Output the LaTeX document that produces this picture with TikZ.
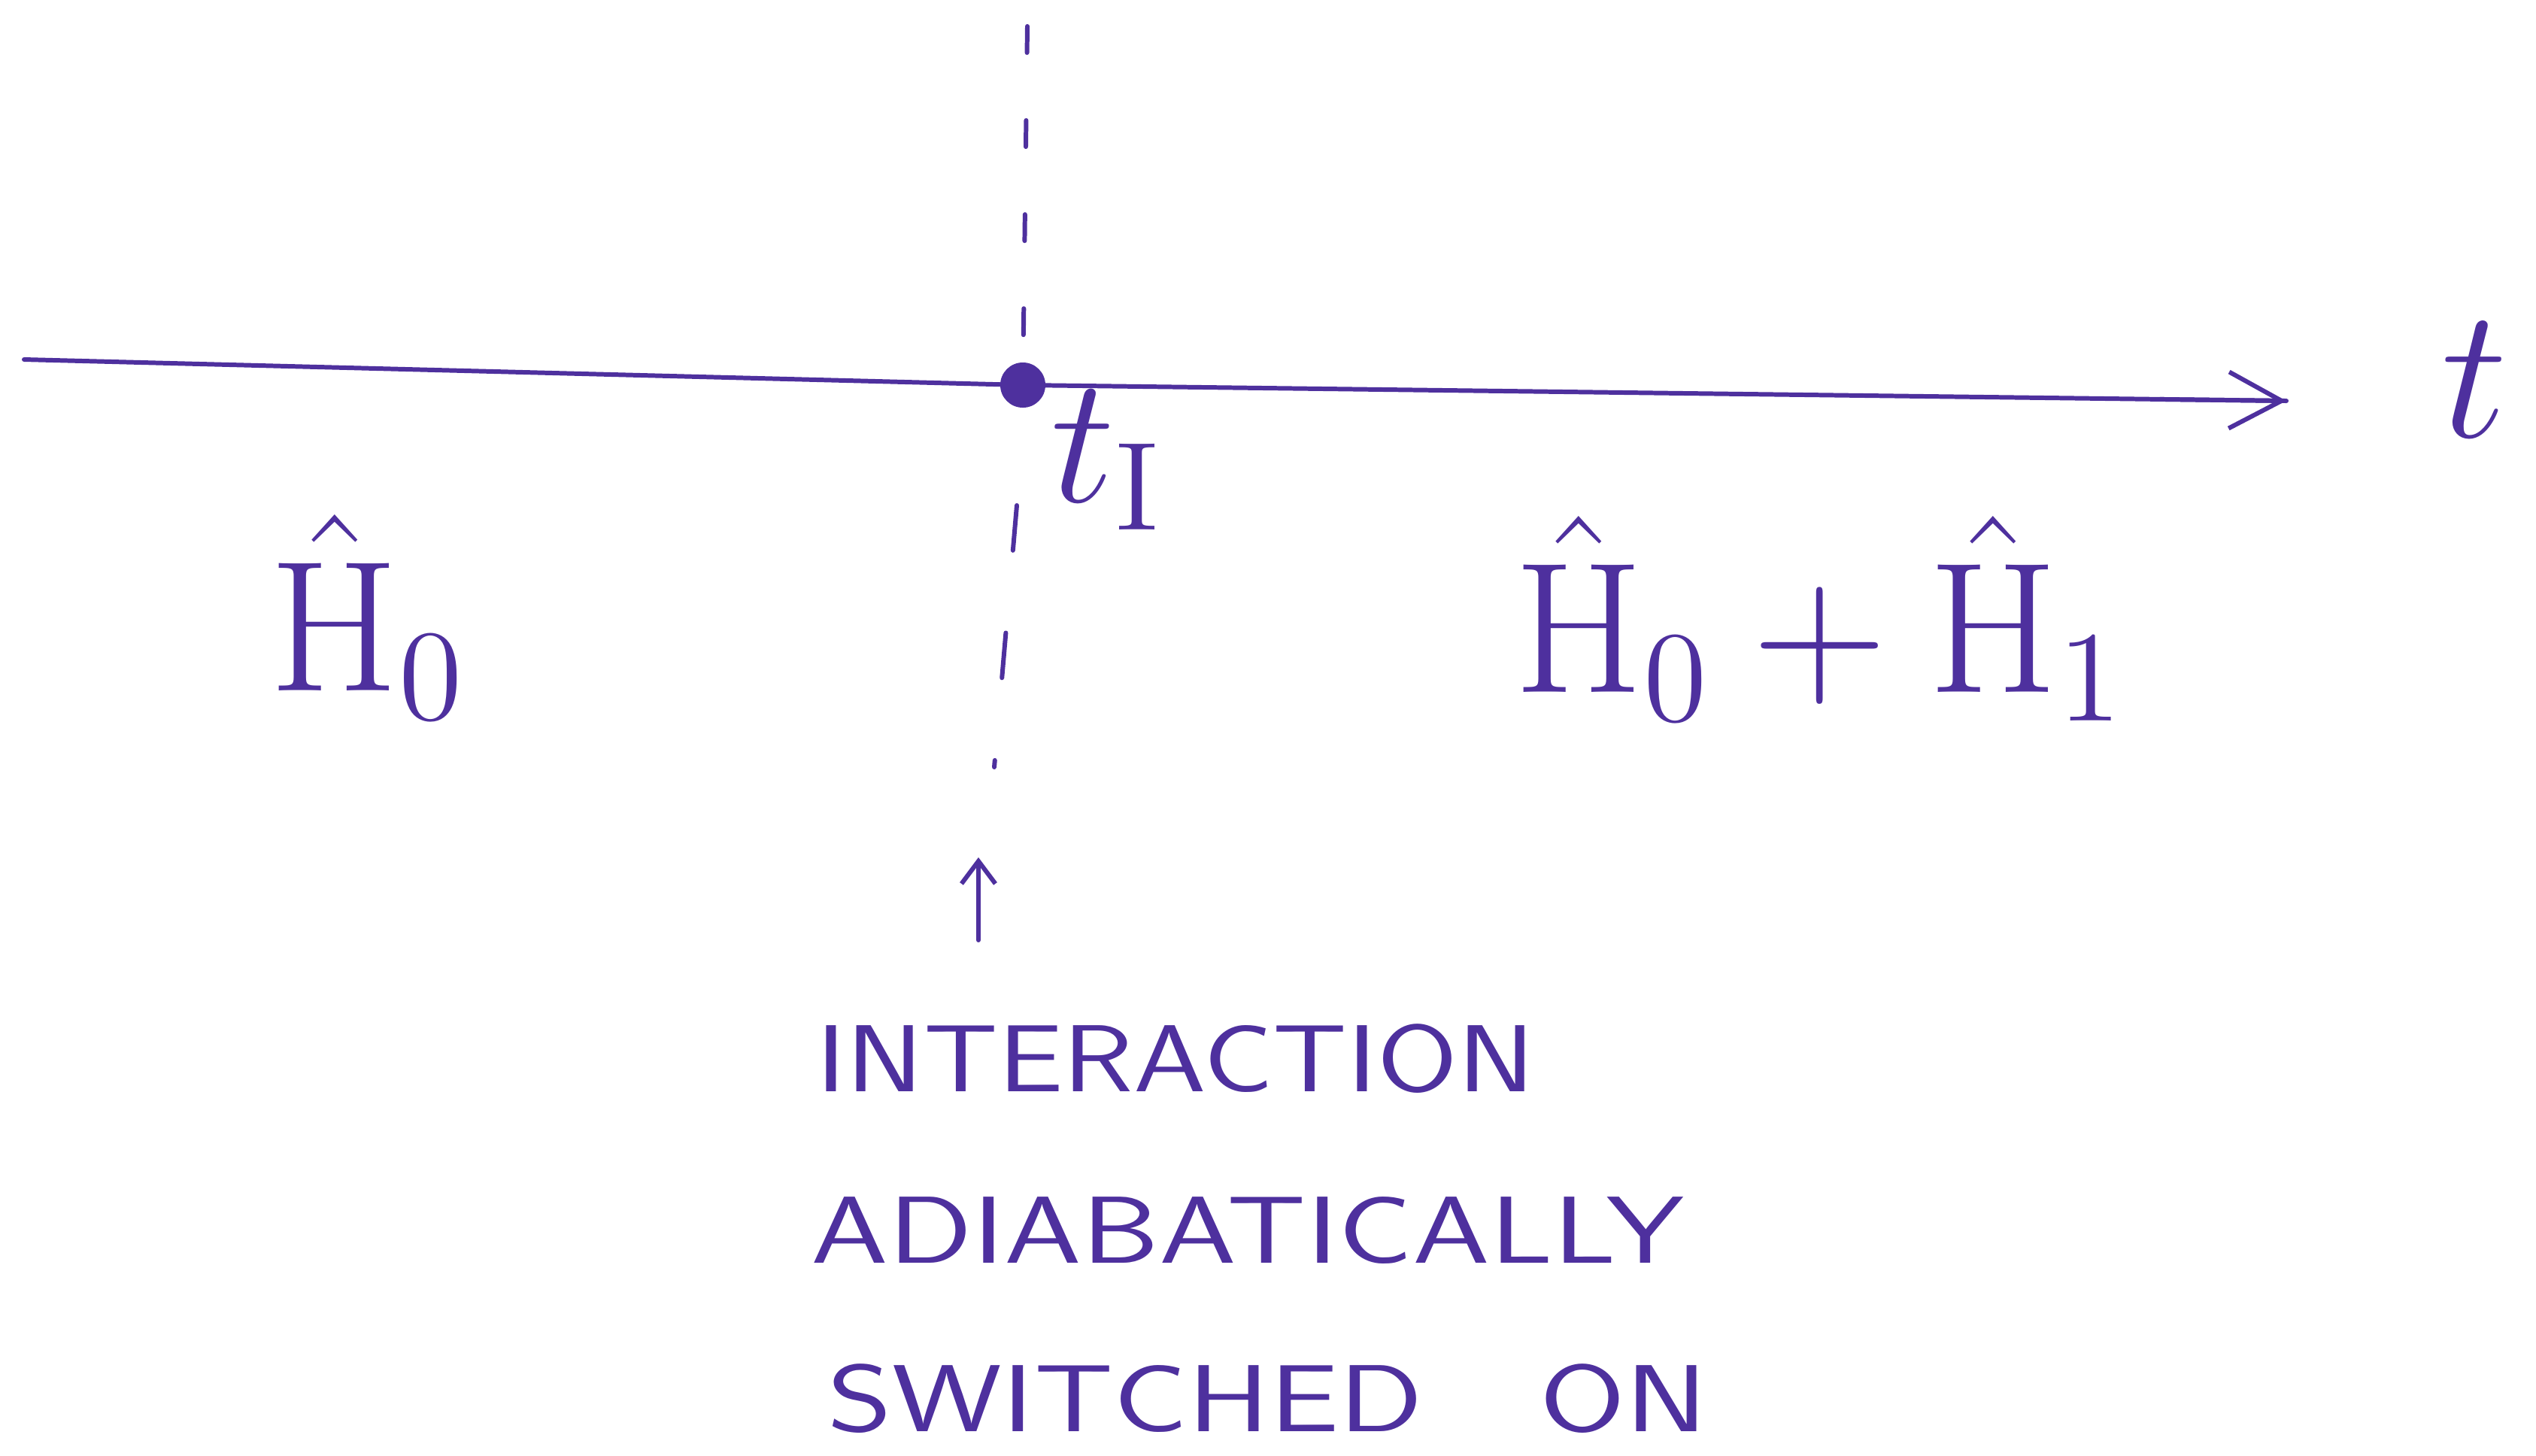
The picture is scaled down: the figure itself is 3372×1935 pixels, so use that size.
\documentclass[tikz,border=0pt]{standalone}
\usetikzlibrary{arrows.meta,calc}
\definecolor{ink}{RGB}{78,48,158}
\begin{document}
\begin{tikzpicture}[x=0.01cm,y=-0.01cm,
  ink/.style={draw=ink,line width=1.7pt,line cap=round},
  caps/.style={text=ink,inner sep=0pt,anchor=west,font=\sffamily\fontsize{36}{40}\selectfont},
  big/.style={text=ink,inner sep=0pt,font=\fontsize{20}{24}\selectfont}]
\useasboundingbox[fill=white] (0,0) rectangle (3372,1935);
% dot on axis
\node[circle,fill=ink,inner sep=0pt,minimum width=0.6cm,minimum height=0.5cm] (dot) at (1360,512) {};
\coordinate (axl) at (32,478);
\coordinate (axr) at (3040,533);
\draw[ink] (axl) -- (dot.center) -- (axr);
\draw[ink,-{Straight Barb[length=0.7cm,width=0.75cm,line width=1.7pt]}] ($(dot.center)!0.9!(axr)$) -- (axr);
\node[big] (t) at (3290,505) {\scalebox{3.4}{$t$}};
% dashed vertical line
\coordinate (vtop) at (1366,35);
\coordinate (vbot) at (1322,1020);
\draw[ink,dash pattern=on 0.35cm off 0.9cm] (vtop) -- (dot.center);
\draw[ink,dash pattern=on 0.6cm off 1.1cm] ($(dot.center)+(-8,160)$) -- (vbot);
% labels
\node[big] (tI) at (1472,612) {\scalebox{3.3}{$t_{\mathrm{I}}$}};
\node[big] (H0) at (490,820) {\scalebox{3.4}{$\hat{\mathrm{H}}_0$}};
\node[big] (H01) at (2420,822) {\scalebox{3.4}{$\hat{\mathrm{H}}_0 + \hat{\mathrm{H}}_1$}};
% arrow to text
\coordinate (arrb) at (1301,1250);
\coordinate (arrt) at (1301,1140);
\draw[ink,-{Straight Barb[length=0.3cm,width=0.45cm,line width=1.7pt]}] (arrb) -- (arrt);
\node[caps] (l1) at (1085,1408) {\scalebox{1.22}[1]{INTERACTION}};
\node[caps] (l2) at (1078,1636) {\scalebox{1.3}[1]{ADIABATICALLY}};
\node[caps] (l3) at (1100,1860) {\scalebox{1.3}[1]{SWITCHED\ \ \ ON}};
\end{tikzpicture}
\end{document}
